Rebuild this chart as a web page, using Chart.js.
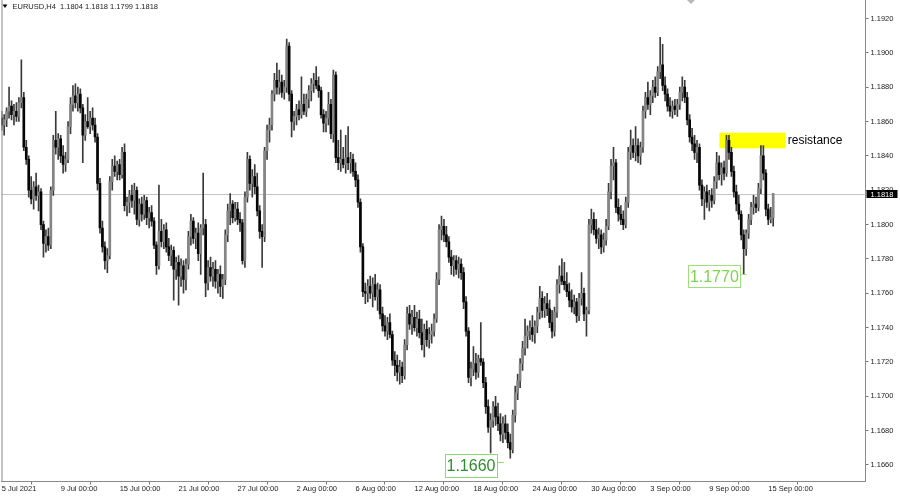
<!DOCTYPE html>
<html>
<head>
<meta charset="utf-8">
<script src="https://cdn.jsdelivr.net/npm/chart.js@4.4.0/dist/chart.umd.min.js"></script>
<style>
html,body{margin:0;padding:0;background:#fff;}
#wrap{position:relative;width:900px;height:496px;}
canvas{display:block;}
</style>
</head>
<body>
<div id="wrap"><canvas id="c" width="900" height="496"></canvas></div>
<script>
// EURUSD H4 candles, 5 Jul 2021 00:00 -> 15 Sep 2021 08:00 (one row per trading day)
const opens = [
1.1862,1.1858,1.1861,1.1866,1.1869,1.1864,
1.1866,1.1863,1.1871,1.1874,1.1845,1.1838,
1.1820,1.1815,1.1822,1.1817,1.1819,1.1800,
1.1789,1.1793,1.1788,1.1820,1.1849,1.1845,
1.1850,1.1840,1.1835,1.1838,1.1857,1.1870,
1.1875,1.1871,1.1876,1.1868,1.1852,1.1860,
1.1857,1.1862,1.1858,1.1851,1.1824,1.1798,
1.1787,1.1779,1.1782,1.1825,1.1834,1.1831,
1.1835,1.1829,1.1842,1.1811,1.1813,1.1817,
1.1814,1.1820,1.1803,1.1812,1.1806,1.1814,
1.1804,1.1807,1.1802,1.1788,1.1776,1.1796,
1.1790,1.1797,1.1787,1.1782,1.1785,1.1774,
1.1778,1.1770,1.1776,1.1768,1.1777,1.1793,
1.1802,1.1792,1.1795,1.1783,1.1798,1.1800,
1.1766,1.1775,1.1770,1.1774,1.1767,1.1771,
1.1764,1.1768,1.1794,1.1808,1.1812,1.1804,
1.1809,1.1803,1.1801,1.1779,1.1816,1.1838,
1.1824,1.1828,1.1822,1.1808,1.1796,1.1793,
1.1843,1.1855,1.1858,1.1876,1.1884,1.1880,
1.1883,1.1877,1.1880,1.1904,1.1876,1.1860,
1.1863,1.1867,1.1864,1.1870,1.1866,1.1873,
1.1878,1.1882,1.1884,1.1881,1.1878,1.1864,
1.1859,1.1862,1.1870,1.1853,1.1887,1.1839,
1.1836,1.1838,1.1835,1.1839,1.1836,1.1838,
1.1831,1.1826,1.1813,1.1787,1.1761,1.1760,
1.1764,1.1760,1.1765,1.1758,1.1762,1.1748,
1.1741,1.1738,1.1743,1.1736,1.1721,1.1718,
1.1714,1.1717,1.1712,1.1730,1.1748,1.1742,
1.1746,1.1740,1.1745,1.1737,1.1730,1.1739,
1.1733,1.1736,1.1738,1.1745,1.1768,1.1797,
1.1799,1.1794,1.1790,1.1781,1.1776,1.1779,
1.1774,1.1777,1.1772,1.1755,1.1738,1.1711,
1.1716,1.1719,1.1714,1.1722,1.1720,1.1708,
1.1694,1.1682,1.1686,1.1694,1.1688,1.1684,
1.1678,1.1684,1.1679,1.1673,1.1669,1.1689,
1.1702,1.1709,1.1719,1.1728,1.1735,1.1738,
1.1740,1.1736,1.1741,1.1749,1.1757,1.1750,
1.1754,1.1751,1.1743,1.1738,1.1749,1.1765,
1.1770,1.1767,1.1765,1.1761,1.1756,1.1752,
1.1755,1.1747,1.1757,1.1760,1.1748,1.1750,
1.1800,1.1803,1.1797,1.1792,1.1794,1.1787,
1.1791,1.1799,1.1819,1.1834,1.1836,1.1810,
1.1806,1.1803,1.1800,1.1813,1.1842,1.1846,
1.1842,1.1846,1.1840,1.1845,1.1866,1.1874,
1.1870,1.1875,1.1880,1.1877,1.1889,1.1893,
1.1881,1.1876,1.1869,1.1866,1.1869,1.1867,
1.1870,1.1877,1.1880,1.1874,1.1861,1.1851,
1.1847,1.1842,1.1845,1.1823,1.1815,1.1819,
1.1813,1.1817,1.1814,1.1825,1.1836,1.1829,
1.1833,1.1830,1.1849,1.1842,1.1831,1.1819,
1.1812,1.1806,1.1794,1.1786,1.1795,1.1803,
1.1810,1.1812,1.1810,1.1821,1.1840,1.1830,
1.1809,1.1803,1.1804
];
const highs = [
1.1866,1.1864,1.1868,1.1880,1.1872,1.1870,
1.1871,1.1874,1.1896,1.1877,1.1849,1.1840,
1.1828,1.1825,1.1830,1.1823,1.1821,1.1802,
1.1797,1.1798,1.1822,1.1852,1.1866,1.1853,
1.1852,1.1846,1.1842,1.1860,1.1874,1.1881,
1.1882,1.1880,1.1879,1.1870,1.1864,1.1874,
1.1866,1.1868,1.1862,1.1853,1.1827,1.1802,
1.1790,1.1786,1.1828,1.1838,1.1840,1.1837,
1.1838,1.1845,1.1847,1.1816,1.1820,1.1823,
1.1824,1.1822,1.1815,1.1816,1.1817,1.1816,
1.1810,1.1811,1.1804,1.1790,1.1823,1.1803,
1.1800,1.1801,1.1792,1.1788,1.1787,1.1781,
1.1782,1.1780,1.1779,1.1780,1.1796,1.1806,
1.1804,1.1798,1.1801,1.1800,1.1830,1.1803,
1.1779,1.1781,1.1778,1.1779,1.1774,1.1776,
1.1771,1.1797,1.1812,1.1818,1.1814,1.1813,
1.1813,1.1807,1.1803,1.1819,1.1842,1.1840,
1.1832,1.1835,1.1830,1.1811,1.1800,1.1845,
1.1858,1.1862,1.1878,1.1888,1.1894,1.1890,
1.1887,1.1884,1.1908,1.1906,1.1878,1.1866,
1.1870,1.1872,1.1886,1.1876,1.1876,1.1881,
1.1885,1.1888,1.1892,1.1886,1.1880,1.1867,
1.1866,1.1877,1.1873,1.1890,1.1889,1.1849,
1.1855,1.1845,1.1852,1.1857,1.1842,1.1841,
1.1836,1.1829,1.1815,1.1789,1.1766,1.1768,
1.1770,1.1769,1.1771,1.1766,1.1765,1.1752,
1.1747,1.1746,1.1748,1.1738,1.1726,1.1724,
1.1721,1.1720,1.1733,1.1752,1.1753,1.1750,
1.1753,1.1749,1.1750,1.1745,1.1742,1.1744,
1.1740,1.1742,1.1748,1.1772,1.1800,1.1805,
1.1803,1.1799,1.1793,1.1785,1.1782,1.1782,
1.1781,1.1780,1.1775,1.1758,1.1740,1.1720,
1.1729,1.1725,1.1724,1.1743,1.1722,1.1711,
1.1698,1.1690,1.1697,1.1700,1.1696,1.1690,
1.1688,1.1689,1.1684,1.1678,1.1692,1.1706,
1.1713,1.1722,1.1732,1.1745,1.1741,1.1744,
1.1747,1.1744,1.1752,1.1764,1.1761,1.1758,
1.1760,1.1756,1.1750,1.1752,1.1768,1.1776,
1.1780,1.1778,1.1772,1.1766,1.1762,1.1759,
1.1757,1.1760,1.1772,1.1763,1.1752,1.1803,
1.1809,1.1807,1.1803,1.1798,1.1797,1.1795,
1.1803,1.1824,1.1838,1.1845,1.1838,1.1815,
1.1811,1.1808,1.1816,1.1845,1.1855,1.1850,
1.1857,1.1850,1.1848,1.1869,1.1877,1.1883,
1.1878,1.1884,1.1886,1.1892,1.1909,1.1905,
1.1886,1.1879,1.1874,1.1872,1.1873,1.1873,
1.1880,1.1886,1.1884,1.1877,1.1864,1.1856,
1.1852,1.1849,1.1847,1.1826,1.1822,1.1823,
1.1820,1.1821,1.1828,1.1842,1.1840,1.1836,
1.1837,1.1852,1.1852,1.1845,1.1834,1.1823,
1.1817,1.1808,1.1797,1.1797,1.1806,1.1813,
1.1817,1.1816,1.1824,1.1846,1.1846,1.1832,
1.1812,1.1810,1.1818
];
const lows = [
1.1855,1.1852,1.1857,1.1862,1.1861,1.1858,
1.1860,1.1860,1.1868,1.1843,1.1835,1.1816,
1.1812,1.1809,1.1814,1.1808,1.1797,1.1781,
1.1784,1.1785,1.1786,1.1817,1.1841,1.1838,
1.1836,1.1830,1.1831,1.1836,1.1853,1.1866,
1.1868,1.1866,1.1865,1.1836,1.1849,1.1856,
1.1853,1.1855,1.1848,1.1820,1.1795,1.1784,
1.1774,1.1772,1.1780,1.1820,1.1828,1.1826,
1.1826,1.1827,1.1808,1.1805,1.1807,1.1810,
1.1806,1.1800,1.1799,1.1802,1.1803,1.1800,
1.1798,1.1799,1.1786,1.1771,1.1774,1.1787,
1.1786,1.1784,1.1779,1.1776,1.1756,1.1768,
1.1753,1.1764,1.1760,1.1762,1.1774,1.1788,
1.1789,1.1786,1.1779,1.1771,1.1794,1.1758,
1.1762,1.1767,1.1764,1.1763,1.1760,1.1758,
1.1757,1.1765,1.1790,1.1800,1.1801,1.1802,
1.1800,1.1796,1.1777,1.1775,1.1813,1.1820,
1.1816,1.1818,1.1805,1.1792,1.1775,1.1790,
1.1838,1.1848,1.1855,1.1872,1.1876,1.1876,
1.1874,1.1873,1.1877,1.1872,1.1851,1.1855,
1.1858,1.1861,1.1862,1.1864,1.1863,1.1868,
1.1872,1.1877,1.1879,1.1874,1.1862,1.1854,
1.1854,1.1858,1.1850,1.1848,1.1836,1.1832,
1.1831,1.1833,1.1830,1.1832,1.1830,1.1828,
1.1822,1.1810,1.1784,1.1758,1.1754,1.1755,
1.1757,1.1752,1.1756,1.1750,1.1745,1.1738,
1.1735,1.1733,1.1734,1.1718,1.1712,1.1709,
1.1707,1.1708,1.1710,1.1727,1.1739,1.1736,
1.1738,1.1735,1.1734,1.1727,1.1723,1.1729,
1.1728,1.1731,1.1735,1.1743,1.1765,1.1791,
1.1790,1.1787,1.1778,1.1771,1.1770,1.1771,
1.1769,1.1768,1.1751,1.1735,1.1708,1.1706,
1.1712,1.1710,1.1711,1.1718,1.1705,1.1690,
1.1679,1.1667,1.1682,1.1683,1.1680,1.1674,
1.1673,1.1675,1.1670,1.1664,1.1667,1.1685,
1.1698,1.1705,1.1715,1.1724,1.1728,1.1733,
1.1732,1.1731,1.1737,1.1745,1.1746,1.1746,
1.1747,1.1740,1.1734,1.1735,1.1746,1.1760,
1.1765,1.1762,1.1758,1.1752,1.1749,1.1748,
1.1743,1.1744,1.1753,1.1744,1.1735,1.1748,
1.1795,1.1794,1.1789,1.1786,1.1783,1.1784,
1.1788,1.1797,1.1815,1.1826,1.1807,1.1802,
1.1800,1.1797,1.1798,1.1810,1.1838,1.1839,
1.1837,1.1836,1.1835,1.1842,1.1862,1.1867,
1.1864,1.1871,1.1874,1.1875,1.1885,1.1878,
1.1872,1.1866,1.1863,1.1862,1.1864,1.1863,
1.1867,1.1872,1.1871,1.1858,1.1848,1.1843,
1.1838,1.1836,1.1820,1.1811,1.1803,1.1810,
1.1808,1.1810,1.1812,1.1821,1.1826,1.1823,
1.1826,1.1828,1.1838,1.1828,1.1816,1.1808,
1.1803,1.1791,1.1771,1.1782,1.1792,1.1800,
1.1806,1.1807,1.1808,1.1818,1.1826,1.1805,
1.1800,1.1801,1.1799
];
const closes = [
1.1858,1.1861,1.1866,1.1869,1.1864,1.1866,
1.1863,1.1871,1.1874,1.1845,1.1838,1.1820,
1.1815,1.1822,1.1817,1.1819,1.1800,1.1789,
1.1793,1.1788,1.1820,1.1849,1.1845,1.1850,
1.1840,1.1835,1.1838,1.1857,1.1870,1.1875,
1.1871,1.1876,1.1868,1.1852,1.1860,1.1857,
1.1862,1.1858,1.1851,1.1824,1.1798,1.1787,
1.1779,1.1782,1.1825,1.1834,1.1831,1.1835,
1.1829,1.1842,1.1811,1.1813,1.1817,1.1814,
1.1820,1.1803,1.1812,1.1806,1.1814,1.1804,
1.1807,1.1802,1.1788,1.1776,1.1796,1.1790,
1.1797,1.1787,1.1782,1.1785,1.1774,1.1778,
1.1770,1.1776,1.1768,1.1777,1.1793,1.1802,
1.1792,1.1795,1.1783,1.1798,1.1800,1.1766,
1.1775,1.1770,1.1774,1.1767,1.1771,1.1764,
1.1768,1.1794,1.1808,1.1812,1.1804,1.1809,
1.1803,1.1801,1.1779,1.1816,1.1838,1.1824,
1.1828,1.1822,1.1808,1.1796,1.1793,1.1843,
1.1855,1.1858,1.1876,1.1884,1.1880,1.1883,
1.1877,1.1880,1.1904,1.1876,1.1860,1.1863,
1.1867,1.1864,1.1870,1.1866,1.1873,1.1878,
1.1882,1.1884,1.1881,1.1878,1.1864,1.1859,
1.1862,1.1870,1.1853,1.1887,1.1839,1.1836,
1.1838,1.1835,1.1839,1.1836,1.1838,1.1831,
1.1826,1.1813,1.1787,1.1761,1.1760,1.1764,
1.1760,1.1765,1.1758,1.1762,1.1748,1.1741,
1.1738,1.1743,1.1736,1.1721,1.1718,1.1714,
1.1717,1.1712,1.1730,1.1748,1.1742,1.1746,
1.1740,1.1745,1.1737,1.1730,1.1739,1.1733,
1.1736,1.1738,1.1745,1.1768,1.1797,1.1799,
1.1794,1.1790,1.1781,1.1776,1.1779,1.1774,
1.1777,1.1772,1.1755,1.1738,1.1711,1.1716,
1.1719,1.1714,1.1722,1.1720,1.1708,1.1694,
1.1682,1.1686,1.1694,1.1688,1.1684,1.1678,
1.1684,1.1679,1.1673,1.1669,1.1689,1.1702,
1.1709,1.1719,1.1728,1.1735,1.1738,1.1740,
1.1736,1.1741,1.1749,1.1757,1.1750,1.1754,
1.1751,1.1743,1.1738,1.1749,1.1765,1.1770,
1.1767,1.1765,1.1761,1.1756,1.1752,1.1755,
1.1747,1.1757,1.1760,1.1748,1.1750,1.1800,
1.1803,1.1797,1.1792,1.1794,1.1787,1.1791,
1.1799,1.1819,1.1834,1.1836,1.1810,1.1806,
1.1803,1.1800,1.1813,1.1842,1.1846,1.1842,
1.1846,1.1840,1.1845,1.1866,1.1874,1.1870,
1.1875,1.1880,1.1877,1.1889,1.1893,1.1881,
1.1876,1.1869,1.1866,1.1869,1.1867,1.1870,
1.1877,1.1880,1.1874,1.1861,1.1851,1.1847,
1.1842,1.1845,1.1823,1.1815,1.1819,1.1813,
1.1817,1.1814,1.1825,1.1836,1.1829,1.1833,
1.1830,1.1849,1.1842,1.1831,1.1819,1.1812,
1.1806,1.1794,1.1786,1.1795,1.1803,1.1810,
1.1812,1.1810,1.1821,1.1840,1.1830,1.1809,
1.1803,1.1804,1.1818
];

// axis ticks
const tickIndex  = [0,24,48,72,96,120,144,168,192,216,240,264,288,312];
const tickLabels = ['5 Jul 2021','9 Jul 00:00','15 Jul 00:00','21 Jul 00:00','27 Jul 00:00','2 Aug 00:00','6 Aug 00:00','12 Aug 00:00','18 Aug 00:00','24 Aug 00:00','30 Aug 00:00','3 Sep 00:00','9 Sep 00:00','15 Sep 00:00'];
const priceTicks = [1.166,1.168,1.170,1.172,1.174,1.176,1.178,1.180,1.182,1.184,1.186,1.188,1.190,1.192];

const symbolHeader = 'EURUSD,H4  1.1804 1.1818 1.1799 1.1818';
const currentPrice = 1.1818;

// annotations (bar index / price coordinates)
const zone = {from:292.1, to:319.1, top:1.18535, bottom:1.18444, label:'resistance'};
const tags = [
  {text:'1.1660', from:180.4, to:201.6, top:1.16664, bottom:1.16530, linePrice:1.16620, lineTo:204.4, color:'#2f8c2f', border:'#8fd86a'},
  {text:'1.1770', from:279.4, to:300.7, top:1.17765, bottom:1.17634, linePrice:1.17710, lineTo:303.2, color:'#7fd34e', border:'#9fe07a'}
];

const FONT = "'Liberation Sans', Arial, sans-serif";
const BULL = '#858585', BEAR = '#050505', WICK = '#3a3a3a';

const wickData = lows.map((l,i)=>({x:i, y:[l, highs[i]]}));
const bodyData = opens.map((o,i)=>({x:i, y:[o, closes[i]]}));
const bodyColors = opens.map((o,i)=> closes[i] >= o ? BULL : BEAR);

const xMin = -0.081, xMax = 351.57;
const yMin = 1.165039, yMax = 1.193077;

const overlay = {
  id:'overlay',
  beforeDatasetsDraw(chart){
    const {ctx, chartArea:a, scales:{x,y}} = chart;
    ctx.save();
    const py = Math.round(y.getPixelForValue(currentPrice)) + 0.5;
    ctx.strokeStyle = '#c4c4c4'; ctx.lineWidth = 1;
    ctx.beginPath(); ctx.moveTo(a.left, py); ctx.lineTo(a.right, py); ctx.stroke();
    const x1 = x.getPixelForValue(zone.from), x2 = x.getPixelForValue(zone.to);
    const y1 = y.getPixelForValue(zone.top), y2 = y.getPixelForValue(zone.bottom);
    ctx.fillStyle = '#ffff00';
    ctx.fillRect(x1, y1, x2 - x1, y2 - y1);
    ctx.restore();
  },
  afterDatasetsDraw(chart){
    const {ctx, chartArea:a, scales:{x,y}} = chart;
    ctx.save();
    ctx.fillStyle = '#000';
    ctx.font = '12px ' + FONT;
    ctx.textAlign = 'left'; ctx.textBaseline = 'middle';
    ctx.fillText(zone.label, x.getPixelForValue(zone.to) + 2, (y.getPixelForValue(zone.top) + y.getPixelForValue(zone.bottom)) / 2 + 0.5);
    tags.forEach(t=>{
      const x1 = x.getPixelForValue(t.from), x2 = x.getPixelForValue(t.to);
      const y1 = y.getPixelForValue(t.top), y2 = y.getPixelForValue(t.bottom);
      ctx.fillStyle = '#fff';
      ctx.fillRect(x1, y1, x2 - x1, y2 - y1);
      ctx.strokeStyle = t.border; ctx.lineWidth = 1;
      ctx.strokeRect(Math.round(x1) + 0.5, Math.round(y1) + 0.5, Math.round(x2 - x1), Math.round(y2 - y1));
      const ly = Math.round(y.getPixelForValue(t.linePrice)) + 0.5;
      ctx.beginPath(); ctx.moveTo(Math.round(x2) + 0.5, ly); ctx.lineTo(x.getPixelForValue(t.lineTo), ly); ctx.stroke();
      ctx.fillStyle = t.color;
      ctx.font = '16px ' + FONT;
      ctx.textAlign = 'center'; ctx.textBaseline = 'middle';
      ctx.fillText(t.text, (x1 + x2) / 2, (y1 + y2) / 2 + 1);
    });
    ctx.restore();
  },
  afterDraw(chart){
    const {ctx, chartArea:a, scales:{x,y}} = chart;
    ctx.save();
    ctx.strokeStyle = '#8a8a8a'; ctx.lineWidth = 1;
    ctx.beginPath(); ctx.moveTo(a.left + 0.5, a.top); ctx.lineTo(a.left + 0.5, a.bottom); ctx.stroke();
    ctx.fillStyle = '#000';
    ctx.beginPath(); ctx.moveTo(2.5, 4.5); ctx.lineTo(7.5, 4.5); ctx.lineTo(5, 8); ctx.closePath(); ctx.fill();
    ctx.font = '7.5px ' + FONT;
    ctx.textAlign = 'left'; ctx.textBaseline = 'middle';
    ctx.fillStyle = '#222';
    ctx.fillText(symbolHeader, 12.5, 6.5);
    ctx.fillStyle = '#b8b8b8';
    ctx.beginPath(); ctx.moveTo(687, 0); ctx.lineTo(695, 0); ctx.lineTo(691, 4); ctx.closePath(); ctx.fill();
    const py = y.getPixelForValue(currentPrice);
    ctx.fillStyle = '#000';
    ctx.fillRect(a.right + 1, Math.round(py) - 4, 31, 8);
    ctx.fillStyle = '#fff';
    ctx.font = '7.5px ' + FONT;
    ctx.fillText(currentPrice.toFixed(4), a.right + 5, Math.round(py) + 0.5);
    ctx.restore();
  }
};

new Chart(document.getElementById('c'), {
  type: 'bar',
  data: {
    datasets: [
      {label:'wick', data: wickData, backgroundColor: WICK, barThickness: 1, grouped: false, order: 2},
      {label:'body', data: bodyData, backgroundColor: bodyColors, barThickness: 2, grouped: false, order: 1, minBarLength: 1}
    ]
  },
  options: {
    responsive: false,
    animation: false,
    devicePixelRatio: 1,
    layout: {padding: {left: 1.5, top: 0, right: 0, bottom: 0}},
    plugins: {legend: {display: false}, tooltip: {enabled: false}, title: {display: false}},
    scales: {
      x: {
        type: 'linear', position: 'bottom', min: xMin, max: xMax, offset: false,
        afterBuildTicks: s => { s.ticks = tickIndex.map(v => ({value: v})); },
        afterFit: s => { s.height = 14.5; s.paddingLeft = 0; s.paddingRight = 0; },
        ticks: {autoSkip: false, maxRotation: 0, minRotation: 0, align: 'start', padding: 0,
          color: '#222', font: {family: FONT, size: 7.5},
          callback: v => { const k = tickIndex.indexOf(v); return k >= 0 ? tickLabels[k] : ''; }},
        grid: {drawOnChartArea: false, drawTicks: true, tickLength: 3, color: '#777'},
        border: {display: true, color: '#8a8a8a'}
      },
      y: {
        type: 'linear', position: 'right', min: yMin, max: yMax,
        afterBuildTicks: s => { s.ticks = priceTicks.map(v => ({value: v})); },
        afterFit: s => { s.width = 34.5; s.paddingTop = 0; s.paddingBottom = 0; },
        ticks: {padding: 2, color: '#222', font: {family: FONT, size: 7.5}, callback: v => v.toFixed(4)},
        grid: {drawOnChartArea: false, drawTicks: true, tickLength: 3, color: '#777'},
        border: {display: true, color: '#8a8a8a'}
      }
    }
  },
  plugins: [overlay]
});
</script>
</body>
</html>
